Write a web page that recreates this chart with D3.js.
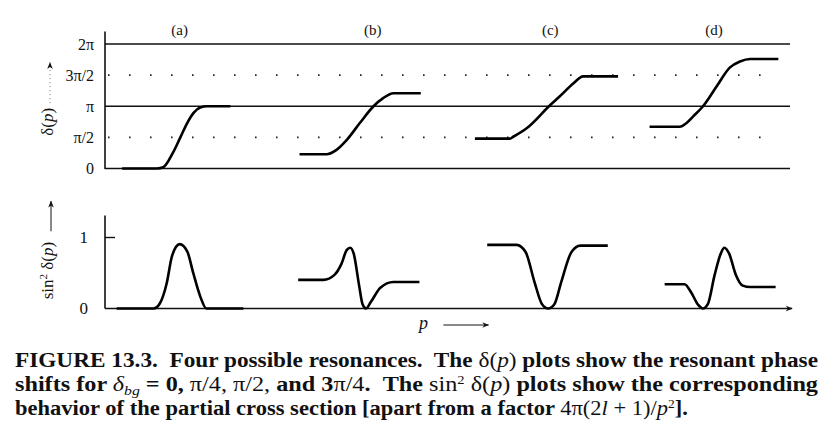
<!DOCTYPE html>
<html>
<head>
<meta charset="utf-8">
<script src="https://cdn.jsdelivr.net/npm/d3@7"></script>
<style>
  body { margin: 0; background: #fff; }
  text { font-family: "Liberation Serif", "DejaVu Serif", serif; fill: #111; white-space: pre; }
</style>
</head>
<body>
<script>
var width = 830;
var height = 435;

// panel labels and where they sit along p
var panelNames = ['(a)', '(b)', '(c)', '(d)'];
var panelP = [1.09, 3.91, 6.50, 8.89];

// phase axis, in units of pi
var phaseTicks = [0, 0.5, 1, 1.5, 2];
var phaseTickLabels = ['0', 'π/2', 'π', '3π/2', '2π'];
var solidLevels = [0, 1, 2];
var dottedLevels = [0.5, 1.5];

// delta(p)/pi, [p, value]
var phaseA = [[0.25,0],[0.76,0],[0.85,0.02],[0.99,0.25],[1.10,0.5],[1.20,0.73],[1.29,0.89],[1.39,0.98],[1.49,1.0],[1.83,1.0]];
var phaseB = [[2.84,0.23],[3.24,0.23],[3.38,0.30],[3.53,0.46],[3.72,0.73],[3.92,1.0],[4.06,1.13],[4.21,1.21],[4.61,1.21]];
var phaseC = [[5.40,0.48],[5.91,0.48],[5.96,0.51],[6.16,0.65],[6.50,1.02],[6.64,1.16],[6.84,1.37],[6.98,1.48],[7.49,1.48]];
var phaseD = [[7.95,0.67],[8.39,0.67],[8.49,0.73],[8.59,0.84],[8.73,1.0],[8.93,1.32],[9.12,1.62],[9.27,1.72],[9.42,1.76],[9.83,1.76]];

// sin^2 delta(p)
var crossTicks = [0, 1];
var crossA = [[0.17,0],[0.71,0],[0.80,0.07],[0.90,0.35],[0.98,0.74],[1.09,0.90],[1.20,0.80],[1.29,0.49],[1.39,0.17],[1.48,0],[2.02,0]];
var crossB = [[2.82,0.40],[3.19,0.40],[3.35,0.47],[3.45,0.62],[3.53,0.82],[3.58,0.85],[3.63,0.77],[3.71,0.32],[3.76,0.06],[3.81,0],[3.88,0.09],[4.02,0.29],[4.21,0.37],[4.59,0.37]];
var crossC = [[5.58,0.89],[6.01,0.89],[6.14,0.79],[6.27,0.37],[6.38,0.06],[6.47,0],[6.56,0.06],[6.66,0.37],[6.81,0.79],[6.94,0.88],[7.34,0.88]];
var crossD = [[8.17,0.34],[8.46,0.34],[8.56,0.22],[8.66,0.05],[8.73,0],[8.80,0.06],[8.90,0.47],[8.99,0.77],[9.04,0.85],[9.11,0.77],[9.21,0.47],[9.31,0.32],[9.42,0.30],[9.79,0.30]];

var svg = d3.select('body').append('svg')
  .attr('width', width).attr('height', height);

svg.append('defs').append('marker')
  .attr('id', 'arr').attr('viewBox', '0 0 10 10')
  .attr('refX', 9).attr('refY', 5)
  .attr('markerWidth', 7).attr('markerHeight', 7)
  .attr('markerUnits', 'userSpaceOnUse')
  .attr('orient', 'auto')
  .append('path').attr('d', 'M0,1 L10,5 L0,9 L3,5 Z').style('fill', '#111');

var x = d3.scaleLinear().domain([0, 10]).range([105, 790]);
var yTop = d3.scaleLinear().domain([0, 2]).range([168.5, 44]);
var yBot = d3.scaleLinear().domain([0, 1]).range([308.5, 237]);

// ---- top panel ----
var gTop = svg.append('g');

gTop.selectAll('line.solid').data(solidLevels).enter().append('line')
  .attr('x1', x(0)).attr('x2', x(10))
  .attr('y1', yTop).attr('y2', yTop)
  .style('stroke', '#111').style('stroke-width', 1.4);

gTop.selectAll('line.dot').data(dottedLevels).enter().append('line')
  .attr('x1', x(0) + 3).attr('x2', x(9.65))
  .attr('y1', yTop).attr('y2', yTop)
  .style('stroke', '#222').style('stroke-width', 1.6)
  .style('stroke-dasharray', '1.6,19.4');

gTop.append('line')
  .attr('x1', x(0)).attr('x2', x(0))
  .attr('y1', yTop(-0.01)).attr('y2', yTop(2.2))
  .style('stroke', '#111').style('stroke-width', 1.6);

var axTop = gTop.append('g')
  .attr('transform', 'translate(' + (x(0) - 8) + ',0)')
  .call(d3.axisLeft(yTop).tickValues(phaseTicks).tickSize(0)
    .tickFormat(function(d, i) { return phaseTickLabels[i]; }));
axTop.select('.domain').remove();
axTop.selectAll('text')
  .style('font-family', '"Liberation Serif", serif')
  .style('font-size', '16px').style('fill', '#111');

gTop.selectAll('text.panel').data(panelNames).enter().append('text')
  .attr('x', function(d, i) { return x(panelP[i]); })
  .attr('y', 35)
  .attr('text-anchor', 'middle')
  .style('font-size', '15px')
  .text(function(d) { return d; });

var linePhase = d3.line()
  .x(function(d) { return x(d[0]); })
  .y(function(d) { return yTop(d[1]); })
  .curve(d3.curveMonotoneX);

gTop.selectAll('path.phase').data([phaseA, phaseB, phaseC, phaseD]).enter().append('path')
  .attr('d', linePhase)
  .style('fill', 'none').style('stroke', '#000').style('stroke-width', 2.6);

// y title with dotted arrow
gTop.append('text')
  .attr('transform', 'translate(53,' + yTop(0.75) + ') rotate(-90)')
  .attr('text-anchor', 'middle')
  .style('font-size', '17px')
  .html('δ(<tspan font-style="italic">p</tspan>)');
gTop.append('line')
  .attr('x1', 50).attr('x2', 50)
  .attr('y1', yTop(1.05)).attr('y2', yTop(1.7))
  .style('stroke', '#777').style('stroke-width', 1)
  .style('stroke-dasharray', '1,3')
  .attr('marker-end', 'url(#arr)');

// ---- bottom panel ----
var gBot = svg.append('g');

gBot.append('line')
  .attr('x1', x(0)).attr('x2', x(10.03))
  .attr('y1', yBot(0)).attr('y2', yBot(0))
  .style('stroke', '#111').style('stroke-width', 1.5)
  .attr('marker-end', 'url(#arr)');

gBot.append('line')
  .attr('x1', x(0)).attr('x2', x(0))
  .attr('y1', yBot(0)).attr('y2', yBot(1.3))
  .style('stroke', '#111').style('stroke-width', 1.6);

var axBot = gBot.append('g')
  .attr('transform', 'translate(' + x(0) + ',0)')
  .call(d3.axisLeft(yBot).tickValues(crossTicks).tickSize(-10).tickPadding(17)
    .tickFormat(d3.format('d')));
axBot.select('.domain').remove();
axBot.selectAll('line').style('stroke', '#111').style('stroke-width', 1.4)
  .filter(function(d) { return d === 0; }).remove();
axBot.selectAll('text')
  .style('font-family', '"Liberation Serif", serif')
  .style('font-size', '17px').style('fill', '#111');

var lineCross = d3.line()
  .x(function(d) { return x(d[0]); })
  .y(function(d) { return yBot(d[1]); })
  .curve(d3.curveMonotoneX);

gBot.selectAll('path.cross').data([crossA, crossB, crossC, crossD]).enter().append('path')
  .attr('d', lineCross)
  .style('fill', 'none').style('stroke', '#000').style('stroke-width', 2.6);

gBot.append('text')
  .attr('transform', 'translate(53,' + yBot(0.53) + ') rotate(-90)')
  .attr('text-anchor', 'middle')
  .style('font-size', '17px')
  .html('sin<tspan dy="-6" font-size="11px">2</tspan><tspan dy="6"> δ(</tspan><tspan font-style="italic">p</tspan>)');
gBot.append('line')
  .attr('x1', 51).attr('x2', 51)
  .attr('y1', yBot(1.08)).attr('y2', yBot(1.5))
  .style('stroke', '#111').style('stroke-width', 1)
  .attr('marker-end', 'url(#arr)');

// p arrow under the axis
gBot.append('text')
  .attr('x', x(4.65)).attr('y', 329)
  .attr('text-anchor', 'middle')
  .style('font-size', '18px').style('font-style', 'italic')
  .text('p');
gBot.append('line')
  .attr('x1', x(4.94)).attr('x2', x(5.6))
  .attr('y1', 325).attr('y2', 325)
  .style('stroke', '#111').style('stroke-width', 1)
  .attr('marker-end', 'url(#arr)');

// ---- caption ----
var cap = svg.append('g')
  .style('font-weight', 'bold').style('font-size', '20px');

cap.append('text').attr('x', 15).attr('y', 367)
  .attr('textLength', 803).attr('lengthAdjust', 'spacingAndGlyphs')
  .html('FIGURE 13.3.  Four possible resonances.  The <tspan font-weight="normal">δ(<tspan font-style="italic">p</tspan>)</tspan> plots show the resonant phase');

cap.append('text').attr('x', 15).attr('y', 391)
  .attr('textLength', 803).attr('lengthAdjust', 'spacingAndGlyphs')
  .html('shifts for <tspan font-weight="normal" font-style="italic">δ</tspan><tspan font-weight="normal" font-style="italic" font-size="13px" dy="4">bg</tspan><tspan dy="-4"> = 0, </tspan><tspan font-weight="normal">π/4, π/2,</tspan> and 3<tspan font-weight="normal">π/4</tspan>.  The <tspan font-weight="normal">sin</tspan><tspan font-weight="normal" font-size="12px" dy="-7">2</tspan><tspan font-weight="normal" dy="7"> δ(<tspan font-style="italic">p</tspan>)</tspan> plots show the corresponding');

cap.append('text').attr('x', 15).attr('y', 415)
  .attr('textLength', 673).attr('lengthAdjust', 'spacingAndGlyphs')
  .html('behavior of the partial cross section [apart from a factor <tspan font-weight="normal">4π(2<tspan font-style="italic">l</tspan> + 1)/<tspan font-style="italic">p</tspan></tspan><tspan font-weight="normal" font-size="12px" dy="-7">2</tspan><tspan dy="7">].</tspan>');
</script>
</body>
</html>
